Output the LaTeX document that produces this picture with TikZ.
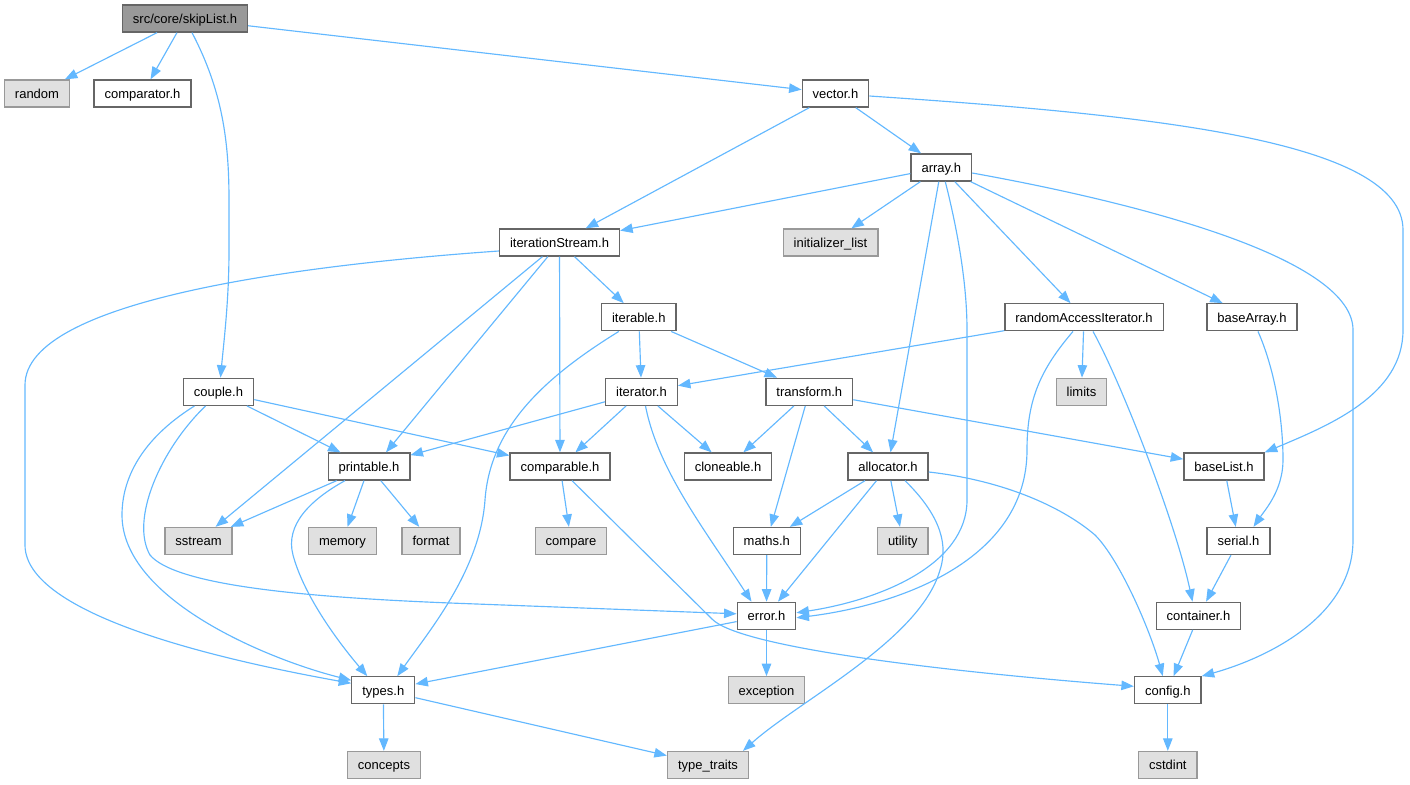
\documentclass[tikz,border=0pt]{standalone}
\usepackage{fontspec}
\setmainfont{Liberation Sans}
\usepackage{xcolor}
\usepackage{tikz}
\usetikzlibrary{arrows.meta}

\definecolor{edgeblue}{HTML}{63B8FF}
\definecolor{nodeborder}{HTML}{666666}
\definecolor{sysborder}{HTML}{999999}
\definecolor{sysfill}{HTML}{E0E0E0}
\definecolor{rootfill}{HTML}{999999}

\begin{document}
\begin{tikzpicture}[x=1pt,y=-1pt,
    box/.style={draw=nodeborder, line width=1.3pt, fill=white, minimum height=27pt,
                inner xsep=10.5pt, inner ysep=0pt, text height=10.5pt, text depth=1pt,
                font=\fontsize{13}{15}\selectfont},
    sys/.style={box, draw=sysborder, fill=sysfill},
    root/.style={box, fill=rootfill},
    dep/.style={draw=edgeblue, line width=1.15pt, -{Triangle[length=12.5pt,width=9.5pt]}}]
            \useasboundingbox (0,0) rectangle (1410,784);

            \node[root] (skiplist) at (185,18.5) {src/core/skipList.h};
            \node[sys] (random) at (37,93.5) {random};
            \node[box] (comparator) at (142.5,93.5) {comparator.h};
            \node[box] (vector) at (835.5,93.5) {vector.h};
            \node[box] (array) at (941.3,167.5) {array.h};
            \node[box] (itstream) at (559.5,242.5) {iterationStream.h};
            \node[sys] (initlist) at (830.5,242.5) {initializer\_list};
            \node[box] (iterable) at (638.8,317.3) {iterable.h};
            \node[box] (rai) at (1084,317.3) {randomAccessIterator.h};
            \node[box] (basearray) at (1252,317.3) {baseArray.h};
            \node[box] (couple) at (218.5,391.8) {couple.h};
            \node[box] (iterator) at (641.5,391.8) {iterator.h};
            \node[box] (transform) at (809.3,391.8) {transform.h};
            \node[sys] (limits) at (1081.5,391.8) {limits};
            \node[box] (printable) at (369,466.5) {printable.h};
            \node[box] (comparable) at (560,466.5) {comparable.h};
            \node[box] (cloneable) at (728,466.5) {cloneable.h};
            \node[box] (allocator) at (888,466.5) {allocator.h};
            \node[box] (baselist) at (1224,466.5) {baseList.h};
            \node[sys] (sstream) at (198.5,541) {sstream};
            \node[sys] (memory) at (342.5,541) {memory};
            \node[sys] (format) at (431,541) {format};
            \node[sys] (compare) at (571,541) {compare};
            \node[box] (maths) at (766.8,541) {maths.h};
            \node[sys] (utility) at (902.8,541) {utility};
            \node[box] (serial) at (1238.5,541) {serial.h};
            \node[box] (error) at (766.5,615.8) {error.h};
            \node[box] (container) at (1198.5,615.8) {container.h};
            \node[box] (types) at (383.3,690.3) {types.h};
            \node[sys] (exception) at (766.5,690.3) {exception};
            \node[box] (config) at (1167.8,690.3) {config.h};
            \node[sys] (concepts) at (384,765) {concepts};
            \node[sys] (typetraits) at (708,765) {type\_traits};
            \node[sys] (cstdint) at (1167.8,765) {cstdint};

            \draw[dep] (skiplist) -- (random);
            \draw[dep] (skiplist) -- (comparator);
            \draw[dep] (skiplist) -- (vector);
            \draw[dep] ([xshift=7pt]skiplist.south) .. controls (222,90) and (229,140) .. (229,200)
                -- (229,250) .. controls (229,300) and (224,340) .. ([xshift=2pt]couple.north);

            \draw[dep] (vector) -- (itstream);
            \draw[dep] (vector) -- (array);
            \draw[dep] ([yshift=-2.5pt]vector.east) .. controls (1150,115) and (1403,140) .. (1403,230)
                -- (1403,330) .. controls (1403,395) and (1330,425) .. (baselist.north east);

            \draw[dep] (array) -- (itstream);
            \draw[dep] (array) -- (initlist);
            \draw[dep] (array) -- (allocator);
            \draw[dep] (array) -- (rai);
            \draw[dep] (array) -- (basearray);
            \draw[dep] ([xshift=4pt]array.south) .. controls (960,240) and (967,290) .. (967,330)
                -- (967,500) .. controls (967,565) and (880,600) .. ([yshift=3pt]error.east);
            \draw[dep] ([yshift=-5.5pt]array.east) .. controls (1150,205) and (1353,260) .. (1353,330)
                -- (1353,540) .. controls (1353,620) and (1260,660) .. (config.north east);

            \draw[dep] (itstream) -- (sstream);
            \draw[dep] (itstream) -- ([xshift=17pt]printable.north);
            \draw[dep] (itstream) -- (comparable);
            \draw[dep] (itstream) -- (iterable);
            \draw[dep] ([yshift=-8.5pt]itstream.west) .. controls (300,265) and (25,300) .. (25,385)
                -- (25,545) .. controls (25,620) and (250,665) .. ([yshift=7pt]types.west);

            \draw[dep] (iterable) -- (iterator);
            \draw[dep] (iterable) -- (transform);
            \draw[dep] ([xshift=-20pt]iterable.south) .. controls (540,380) and (490,430) .. (485,500)
                .. controls (480,570) and (430,630) .. ([xshift=14pt]types.north);

            \draw[dep] (rai) -- (iterator);
            \draw[dep] (rai) -- (limits);
            \draw[dep] ([xshift=-11pt]rai.south) .. controls (1040,370) and (1027,400) .. (1027,450)
                .. controls (1027,560) and (900,605) .. ([yshift=-2pt]error.east);
            \draw[dep] ([xshift=9pt]rai.south) .. controls (1120,380) and (1175,520) .. ([xshift=-6pt]container.north);

            \draw[dep] ([xshift=6pt]basearray.south) .. controls (1275,370) and (1283,420) .. (1283,460)
                .. controls (1283,490) and (1265,510) .. ([xshift=15pt]serial.north);

            \draw[dep] (couple) -- (printable);
            \draw[dep] (couple) -- (comparable);
            \draw[dep] ([xshift=-24pt]couple.south) .. controls (140,440) and (122,480) .. (122,515)
                .. controls (122,600) and (270,660) .. ([yshift=10pt]types.west);
            \draw[dep] ([xshift=-13pt]couple.south) .. controls (160,450) and (130,520) .. (150,555)
                .. controls (175,585) and (300,597) .. (450,603) -- ([yshift=2pt]error.west);

            \draw[dep] (iterator) -- (printable);
            \draw[dep] (iterator) -- (comparable);
            \draw[dep] (iterator) -- (cloneable);
            \draw[dep] ([xshift=4pt]iterator.south) .. controls (658,470) and (705,530) .. ([xshift=-15pt]error.north);

            \draw[dep] (transform) -- (cloneable);
            \draw[dep] (transform) -- (maths);
            \draw[dep] (transform) -- (allocator);
            \draw[dep] (transform) -- (baselist);

            \draw[dep] (printable) -- (sstream);
            \draw[dep] (printable) -- (memory);
            \draw[dep] (printable) -- (format);
            \draw[dep] ([xshift=-24pt]printable.south) .. controls (310,500) and (285,525) .. (293,555)
                .. controls (305,600) and (345,650) .. ([xshift=-16pt]types.north);

            \draw[dep] (comparable) -- (compare);
            \draw[dep] ([xshift=12pt]comparable.south) -- (712,619)
                .. controls (740,648) and (950,672) .. ([yshift=4pt]config.west);

            \draw[dep] (allocator) -- (maths);
            \draw[dep] (allocator) -- (error);
            \draw[dep] (allocator) -- (utility);
            \draw[dep] ([xshift=17pt]allocator.south) .. controls (935,510) and (950,540) .. (940,570)
                .. controls (920,640) and (800,700) .. ([xshift=35pt]typetraits.north);
            \draw[dep] ([yshift=-5.5pt]allocator.east) .. controls (1000,480) and (1060,505) .. (1095,535)
                .. controls (1120,560) and (1150,630) .. ([xshift=-5pt]config.north);

            \draw[dep] (baselist) -- (serial);
            \draw[dep] (serial) -- (container);
            \draw[dep] (container) -- (config);
            \draw[dep] (maths) -- (error);
            \draw[dep] (error) -- (types);
            \draw[dep] (error) -- (exception);
            \draw[dep] (config) -- (cstdint);
            \draw[dep] (types) -- (concepts);
            \draw[dep] (types) -- (typetraits);
        \end{tikzpicture}
\end{document}
